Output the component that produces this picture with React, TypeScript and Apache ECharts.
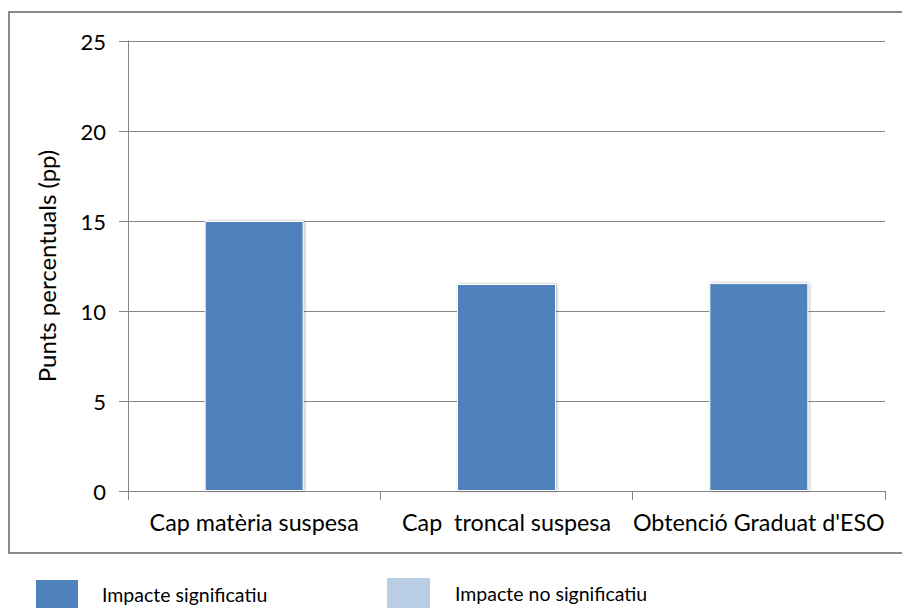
import React, { useEffect, useRef } from "react";
import * as echarts from "echarts";

const categories = ["Cap matèria suspesa", "Cap  troncal suspesa", "Obtenció Graduat d'ESO"];
const significantValues = [15, 11.5, 11.55];
const nonSignificantValues: number[] = [];
const yTicks = { min: 0, max: 25, interval: 5 };
const seriesNames = ["Impacte significatiu", "Impacte no significatiu"];
const yAxisName = "Punts percentuals (pp)";

const FONT = "Lato";
const GRAY = "#878787";
const TEXT = "#000000";

export default function App() {
  const ref = useRef<HTMLDivElement>(null);
  useEffect(() => {
    if (!ref.current) return;
    const chart = echarts.init(ref.current, undefined, { renderer: "svg" });
    chart.setOption({
      animation: false,
      backgroundColor: "#ffffff",
      textStyle: { fontFamily: FONT },
      graphic: [
        {
          type: "rect",
          shape: { x: 9, y: 12, width: 900, height: 541 },
          style: { fill: "none", stroke: "#8a8a8a", lineWidth: 2 },
          silent: true,
        },
      ],
      grid: { left: 128, right: 17, top: 41, bottom: 117 },
      legend: [
        {
          data: [{ name: seriesNames[0], icon: "rect" }],
          left: 34,
          top: 578,
          padding: 0,
          itemWidth: 44,
          itemHeight: 30,
          selectedMode: false,
          textStyle: { fontFamily: FONT, fontSize: 19.5, color: TEXT, padding: [0, 0, 0, 18] },
        },
        {
          data: [{ name: seriesNames[1], icon: "rect" }],
          left: 387,
          top: 578,
          padding: 0,
          itemWidth: 43,
          itemHeight: 30,
          selectedMode: false,
          textStyle: { fontFamily: FONT, fontSize: 19.5, color: TEXT, padding: [0, 0, 0, 20] },
        },
      ],
      xAxis: {
        type: "category",
        data: categories,
        boundaryGap: true,
        axisLine: { show: true, lineStyle: { color: GRAY, width: 1 } },
        axisTick: { show: true, length: 9, alignWithLabel: false, lineStyle: { color: GRAY } },
        axisLabel: { fontFamily: FONT, fontSize: 23.3, color: TEXT, margin: 19, interval: 0 },
        splitLine: { show: false },
      },
      yAxis: {
        type: "value",
        min: yTicks.min,
        max: yTicks.max,
        interval: yTicks.interval,
        name: yAxisName,
        nameLocation: "middle",
        nameGap: 70,
        nameTextStyle: { fontFamily: FONT, fontSize: 24, color: TEXT },
        axisLine: { show: true, lineStyle: { color: GRAY, width: 1 } },
        axisTick: { show: true, length: 9, lineStyle: { color: GRAY } },
        axisLabel: { fontFamily: FONT, fontSize: 22, color: TEXT, margin: 22 },
        splitLine: { show: true, lineStyle: { color: GRAY, width: 1 } },
      },
      series: [
        {
          name: seriesNames[0],
          type: "bar",
          stack: "impact",
          data: significantValues,
          barWidth: 99,
          itemStyle: {
            color: "#4F81BD",
            borderColor: "#ffffff",
            borderWidth: 1,
            shadowBlur: 3,
            shadowColor: "rgba(0,0,0,0.3)",
            shadowOffsetX: 1,
            shadowOffsetY: 0,
          },
        },
        {
          name: seriesNames[1],
          type: "bar",
          stack: "impact",
          data: nonSignificantValues,
          barWidth: 99,
          itemStyle: { color: "#B9CDE5" },
        },
      ],
    });
    return () => chart.dispose();
  }, []);
  return (
    <div
      ref={ref}
      style={{ position: "fixed", left: 0, top: 0, width: 902, height: 608 }}
    />
  );
}
